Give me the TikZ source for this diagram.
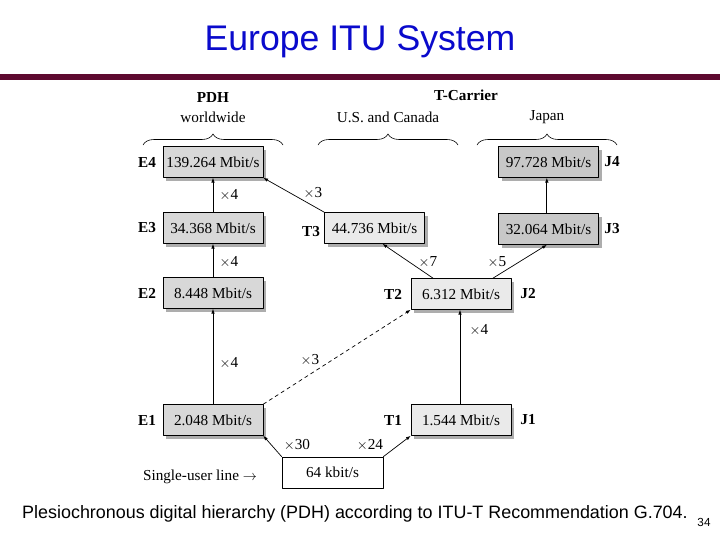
\documentclass[tikz,border=0pt]{standalone}
\usepackage{fontspec}
\setmainfont{Liberation Sans}
\newfontfamily\diagfont{Liberation Serif}
\usetikzlibrary{arrows.meta,decorations.pathreplacing,shadows}
\definecolor{TitleBlue}{HTML}{0A0ACC}
\definecolor{RuleMaroon}{HTML}{5E0A30}
\definecolor{EFill}{HTML}{D8D8D8}
\definecolor{TFill}{HTML}{EAEAEA}
\definecolor{JFill}{HTML}{C8C8C8}
\definecolor{ShadowGray}{HTML}{ADADAD}

\begin{document}
\begin{tikzpicture}[x=0.03cm,y=-0.03cm,line cap=round,line join=round,
  font=\diagfont\fontsize{13pt}{15pt}\selectfont,
  rate/.style={draw,line width=0.6pt,minimum width=3cm,minimum height=0.93cm,inner sep=0pt,
    drop shadow={shadow xshift=2.6pt,shadow yshift=-2.6pt,fill=ShadowGray,opacity=1}},
  tag/.style={font=\diagfont\bfseries\fontsize{13pt}{15pt}\selectfont},
  mult/.style={inner sep=0pt},
  link/.style={line width=0.6pt,-{Latex[length=4pt,width=3pt]}}]
  \useasboundingbox[fill=white] (0,0) rectangle (720,540);
  % slide frame
  \node[font=\fontsize{30.4pt}{34pt}\selectfont,text=TitleBlue] (title) at (360,42) {Europe ITU System};
  \fill[RuleMaroon] (0,74) rectangle (720,80);
  \node[font=\fontsize{15.3pt}{18pt}\selectfont] (caption) at (355,514) {Plesiochronous digital hierarchy (PDH) according to ITU-T Recommendation G.704.};
  \node[font=\fontsize{10pt}{12pt}\selectfont] (pageno) at (704,522) {34};
  % column headings
  \node[tag] (pdh) at (213,98) {PDH};
  \node (world) at (213,117) {worldwide};
  \node[tag] (tcar) at (466,95) {T-Carrier};
  \node (usa) at (388,117) {U.S. and Canada};
  \node (japan) at (547,117) {Japan};
  \draw[line width=0.5pt,decorate,decoration={brace,amplitude=0.33cm}] (143,145) -- (283,145);
  \draw[line width=0.5pt,decorate,decoration={brace,amplitude=0.33cm}] (318,145) -- (458,145);
  \draw[line width=0.5pt,decorate,decoration={brace,amplitude=0.33cm}] (477,145) -- (617,145);
  % rate boxes
  \node[rate,fill=EFill] (E4) at (213,162) {139.264 Mbit/s};
  \node[rate,fill=EFill] (E3) at (213,228) {34.368 Mbit/s};
  \node[rate,fill=EFill] (E2) at (213,293) {8.448 Mbit/s};
  \node[rate,fill=EFill] (E1) at (213,420) {2.048 Mbit/s};
  \node[rate,fill=TFill] (T3) at (374.5,228) {44.736 Mbit/s};
  \node[rate,fill=TFill] (T2) at (461,294) {6.312 Mbit/s};
  \node[rate,fill=TFill] (T1) at (461,420) {1.544 Mbit/s};
  \node[rate,fill=JFill] (J4) at (548.5,162) {97.728 Mbit/s};
  \node[rate,fill=JFill] (J3) at (548.5,229) {32.064 Mbit/s};
  \node[draw,line width=0.6pt,fill=white,minimum width=3.03cm,minimum height=0.93cm,inner sep=0pt] (base) at (332.5,472.5) {64 kbit/s};
  % level names
  \node[tag] (nE4) at (147,162) {E4};
  \node[tag] (nE3) at (147,228) {E3};
  \node[tag] (nE2) at (147,293) {E2};
  \node[tag] (nE1) at (147,420) {E1};
  \node[tag] (nT3) at (311,232) {T3};
  \node[tag] (nT2) at (393,294) {T2};
  \node[tag] (nT1) at (393,420) {T1};
  \node[tag] (nJ4) at (612,162) {J4};
  \node[tag] (nJ3) at (612,229) {J3};
  \node[tag] (nJ2) at (528,294) {J2};
  \node[tag] (nJ1) at (528,420) {J1};
  \node (single) at (200,477) {Single-user line $\rightarrow$};
  % multiplexing steps
  \draw[link] (E1) -- (E2);
  \draw[link] (E2) -- (E3);
  \draw[link] (E3) -- (E4);
  \draw[link] (T3.north west) -- (E4.south east);
  \draw[link] ([xshift=-0.84cm]T2.north) -- ([xshift=0.24cm]T3.south);
  \draw[link] ([xshift=0.96cm]T2.north) -- ([xshift=-0.05cm]J3.south);
  \draw[link] ([xshift=-0.05cm]J3.north) -- ([xshift=-0.05cm]J4.south);
  \draw[link] ([xshift=-0.03cm]T1.north) -- ([xshift=-0.03cm]T2.south);
  \draw[link,dashed] (E1.north east) -- (T2.south west);
  \draw[link] (base.north west) -- (E1.south east);
  \draw[link] (base.north east) -- (T1.south west);
  \node[mult] (m1) at (229,195) {$\times$4};
  \node[mult] (m2) at (229,262) {$\times$4};
  \node[mult] (m3) at (229,363) {$\times$4};
  \node[mult] (m4) at (313,193) {$\times$3};
  \node[mult] (m5) at (428,262) {$\times$7};
  \node[mult] (m6) at (497,262) {$\times$5};
  \node[mult] (m7) at (479,330) {$\times$4};
  \node[mult] (m8) at (310,360) {$\times$3};
  \node[mult] (m9) at (297,445) {$\times$30};
  \node[mult] (m10) at (370,445) {$\times$24};
\end{tikzpicture}
\end{document}
